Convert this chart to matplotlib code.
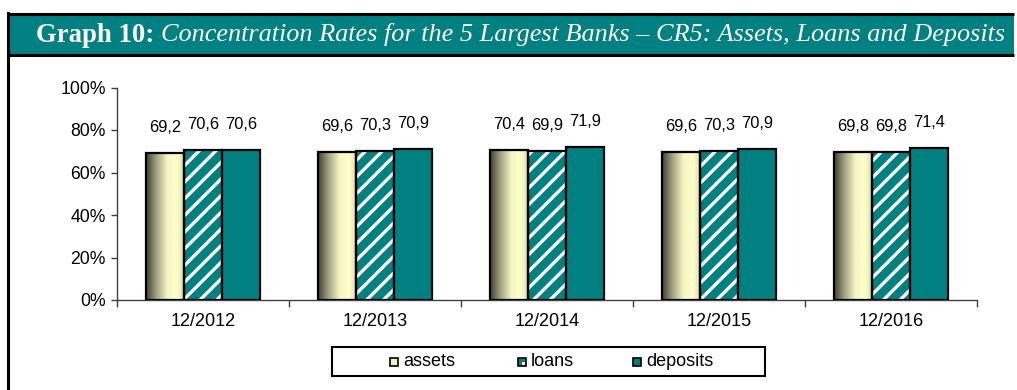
import numpy as np
import matplotlib
matplotlib.use("Agg")
import matplotlib.pyplot as plt
from matplotlib.colors import LinearSegmentedColormap
from matplotlib.patches import Rectangle

periods = ["12/2012", "12/2013", "12/2014", "12/2015", "12/2016"]
assets = [69.2, 69.6, 70.4, 69.6, 69.8]
loans = [70.6, 70.3, 69.9, 70.3, 69.8]
deposits = [70.6, 70.9, 71.9, 70.9, 71.4]

TEAL = "#008080"
W, H = 1017, 390

plt.rcParams["font.family"] = ["Liberation Sans", "DejaVu Sans"]
plt.rcParams["hatch.linewidth"] = 2.4

fig = plt.figure(figsize=(W / 100, H / 100), dpi=100)

# pixel-space overlay for the title band, frame and legend
band = fig.add_axes([0, 0, 1, 1])
band.set_xlim(0, W)
band.set_ylim(H, 0)
band.axis("off")
band.add_patch(Rectangle((8, 14), 1006, 40, facecolor=TEAL, edgecolor="none"))
band.plot([8, 1014], [14, 14], color="black", lw=2.2, solid_capstyle="butt")
band.plot([8, 1014], [54.5, 54.5], color="black", lw=2.2, solid_capstyle="butt")
band.plot([8, 8], [13, H], color="black", lw=2.2)
band.text(36, 35, "Graph 10:", color="white", fontsize=19.3, fontweight="bold",
          family="Liberation Serif", va="center", ha="left")
band.text(161, 35, "Concentration Rates for the 5 Largest Banks \u2013 CR5: Assets, Loans and Deposits",
          color="white", fontsize=18.95, style="italic", family="Liberation Serif",
          va="center", ha="left")

ax = fig.add_axes([117 / W, (H - 300) / H, 860 / W, 212.5 / H])
ax.set_zorder(2)
ax.patch.set_alpha(0)

x = np.arange(len(periods))
bw = 0.222

# shaded fill for the assets bars
grad_cmap = LinearSegmentedColormap.from_list(
    "cream", [(0, "#3f3f30"), (0.25, "#9c9c7c"), (0.55, "#f5f5c4"),
              (0.8, "#ffffcc"), (1, "#d8d8a8")])
grad = np.linspace(0, 1, 256).reshape(1, -1)

bars_a = ax.bar(x - bw, assets, bw, facecolor="none", edgecolor="black", lw=1.6, zorder=3)
for b in bars_a:
    x0, y0 = b.get_x(), b.get_y()
    im = ax.imshow(grad, cmap=grad_cmap, aspect="auto", zorder=2,
                   extent=[x0, x0 + b.get_width(), y0, y0 + b.get_height()])
    im.set_clip_path(b)

ax.bar(x, loans, bw, facecolor=TEAL, edgecolor="white", hatch="//", lw=0, zorder=2)
bars_l = ax.bar(x, loans, bw, facecolor="none", edgecolor="black", lw=1.6, zorder=3)
bars_d = ax.bar(x + bw, deposits, bw, facecolor=TEAL, edgecolor="black", lw=1.6, zorder=3)

for bars, vals in [(bars_a, assets), (bars_l, loans), (bars_d, deposits)]:
    for b, v in zip(bars, vals):
        ax.annotate(f"{v:.1f}".replace(".", ","), (b.get_x() + b.get_width() / 2, v),
                    xytext=(0, 13), textcoords="offset points", ha="center", va="bottom",
                    fontsize=11.8)

ax.set_xlim(-0.5, len(periods) - 0.5)
ax.set_ylim(0, 100)
ax.set_yticks(range(0, 101, 20))
ax.set_yticklabels([f"{v}%" for v in range(0, 101, 20)], fontsize=12.7)
ax.set_xticks(x)
ax.set_xticklabels(periods, fontsize=13)
ax.set_xticks(np.arange(-0.5, len(periods)), minor=True)
ax.tick_params(axis="x", which="major", length=0, pad=9)
ax.tick_params(axis="x", which="minor", length=5, width=1, color="#404040", direction="out")
ax.tick_params(axis="y", length=4, width=1, color="#404040", pad=4)
for s in ["top", "right"]:
    ax.spines[s].set_visible(False)
for s in ["left", "bottom"]:
    ax.spines[s].set_color("#404040")
    ax.spines[s].set_linewidth(1)

# legend box
band.add_patch(Rectangle((332, 347), 433, 29, facecolor="white", edgecolor="black", lw=1.5, zorder=5))
names = ["assets", "loans", "deposits"]
marker_x = [394, 522, 637]
marker_c = ["#f0f0c0", TEAL, TEAL]
for name, mx, mc in zip(names, marker_x, marker_c):
    band.add_patch(Rectangle((mx - 4, 358), 8, 8, facecolor=mc, edgecolor="black",
                             lw=1.2, hatch=None, zorder=6))
    if name == "loans":
        band.add_patch(Rectangle((mx, 362), 3.4, 3.4, facecolor="white", edgecolor="none", zorder=7))
    band.text(mx + 9, 362, name, fontsize=13, va="center", ha="left", zorder=7)

fig.savefig("out.png", dpi=100)
